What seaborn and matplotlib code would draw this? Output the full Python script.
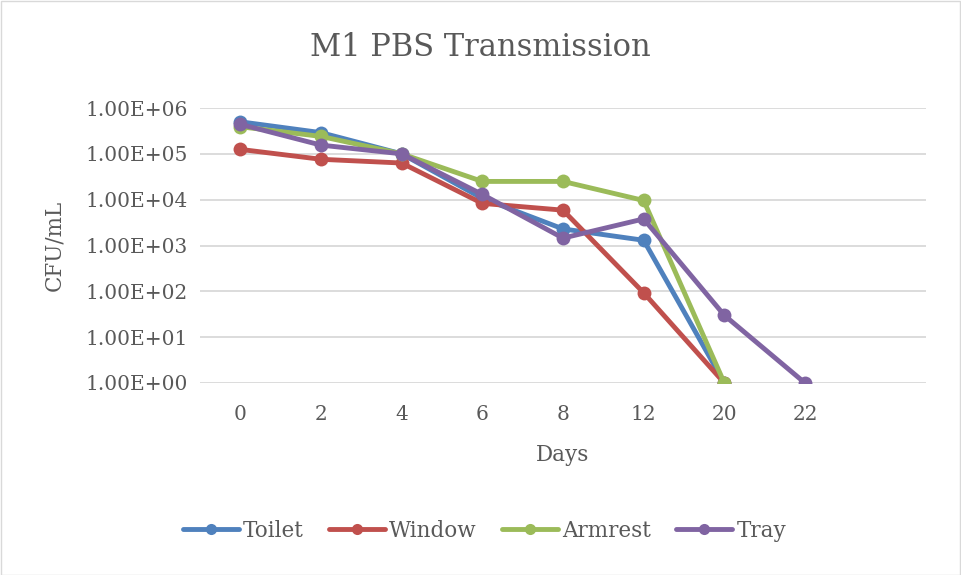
import matplotlib
matplotlib.use("Agg")
import matplotlib.pyplot as plt
import matplotlib.ticker as mticker
from matplotlib.patches import Rectangle
import seaborn as sns
import pandas as pd

days = ["0", "2", "4", "6", "8", "12", "20", "22"]
toilet = [5.0e5, 2.9e5, 1.0e5, 1.07e4, 2.3e3, 1.3e3, 1.0]
window = [1.25e5, 7.6e4, 6.3e4, 8.3e3, 5.9e3, 93, 1.0]
armrest = [3.9e5, 2.4e5, 1.0e5, 2.5e4, 2.5e4, 9.6e3, 1.0]
tray = [4.4e5, 1.55e5, 1.0e5, 1.3e4, 1.45e3, 3.8e3, 30, 1.0]
series_names = ["Toilet", "Window", "Armrest", "Tray"]
colors = ["#4F81BD", "#C0504D", "#9BBB59", "#8064A2"]
yticks = [1e0, 1e1, 1e2, 1e3, 1e4, 1e5, 1e6]

rows = []
for name, vals in zip(series_names, [toilet, window, armrest, tray]):
    for i, v in enumerate(vals):
        rows.append({"pos": i, "Day": days[i], "CFU": v, "Series": name})
df = pd.DataFrame(rows)

sns.set_theme(style="white")
FAM = ["DejaVu Serif"]
plt.rcParams["font.family"] = FAM
TXT = "#595959"

fig = plt.figure(figsize=(9.61, 5.75), dpi=100)
ax = fig.add_axes([200/961, 1-383/575, 726/961, 275/575])

sns.lineplot(data=df, x="pos", y="CFU", hue="Series", hue_order=series_names,
             palette=colors, marker="o", markersize=10, markeredgewidth=0,
             linewidth=3.5, ax=ax, legend=True, estimator=None, sort=False)

ax.set_yscale("log")
ax.set_ylim(1, 1e6)
ax.set_yticks(yticks)
ax.yaxis.set_minor_locator(mticker.NullLocator())
ax.yaxis.set_major_formatter(mticker.FuncFormatter(lambda v, p: f"{v:.2E}"))
ax.set_xlim(-0.5, len(days) + 0.5)
ax.set_xticks(range(len(days)))
ax.set_xticklabels(days)
ax.grid(axis="y", color="#D9D9D9", linewidth=1.3)
ax.set_axisbelow(True)
for s in ax.spines.values():
    s.set_visible(False)
ax.tick_params(axis="both", length=0, labelsize=14.5, colors=TXT)
ax.tick_params(axis="y", pad=9)
ax.tick_params(axis="x", pad=16)
ax.set_xlabel("Days", fontsize=15.5, color=TXT, labelpad=14)
ax.set_ylabel("CFU/mL", fontsize=15.5, color=TXT, labelpad=14)
fig.text(0.5, 1-47/575, "M1 PBS Transmission", ha="center", va="center",
         fontsize=22, color=TXT)

handles, labels = ax.get_legend_handles_labels()
for h in handles:
    h.set_markersize(8)
ax.legend_.remove()
fig.legend(handles, labels, loc="center", bbox_to_anchor=(484.5/961, 1-531/575), ncol=4,
           frameon=False, prop={"family": FAM, "size": 15.5}, handlelength=2.6,
           handletextpad=0.2, columnspacing=1.16, labelcolor=TXT)

fig.patches.append(Rectangle((0.5/961, 0.5/575), 1-1.5/961, 1-1.5/575, transform=fig.transFigure,
                             fill=False, edgecolor="#D9D9D9", linewidth=1))
fig.savefig("out.png", dpi=100)
